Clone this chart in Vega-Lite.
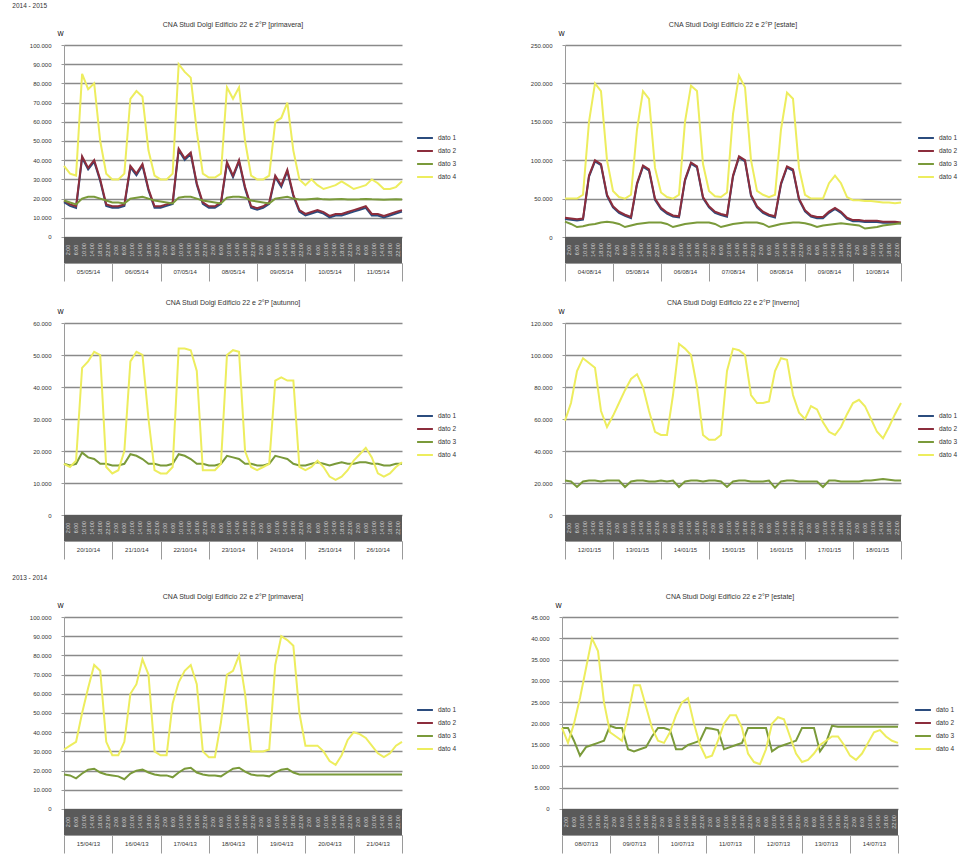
{
"$schema": "https://vega.github.io/schema/vega-lite/v6.json",
"padding": {"left": 12, "top": 2, "right": 2, "bottom": 2},
"background": "white",
"config": {"view": {"stroke": null}, "font": "Liberation Sans", "title": {"fontWeight": "normal", "color": "#333"}},
"datasets": {
"ore": [{"h":2,"t":"2:00"},{"h":6,"t":"6:00"},{"h":10,"t":"10:00"},{"h":14,"t":"14:00"},{"h":18,"t":"18:00"},{"h":22,"t":"22:00"},
{"h":26,"t":"2:00"},{"h":30,"t":"6:00"},{"h":34,"t":"10:00"},{"h":38,"t":"14:00"},{"h":42,"t":"18:00"},{"h":46,"t":"22:00"},
{"h":50,"t":"2:00"},{"h":54,"t":"6:00"},{"h":58,"t":"10:00"},{"h":62,"t":"14:00"},{"h":66,"t":"18:00"},{"h":70,"t":"22:00"},
{"h":74,"t":"2:00"},{"h":78,"t":"6:00"},{"h":82,"t":"10:00"},{"h":86,"t":"14:00"},{"h":90,"t":"18:00"},{"h":94,"t":"22:00"},
{"h":98,"t":"2:00"},{"h":102,"t":"6:00"},{"h":106,"t":"10:00"},{"h":110,"t":"14:00"},{"h":114,"t":"18:00"},{"h":118,"t":"22:00"},
{"h":122,"t":"2:00"},{"h":126,"t":"6:00"},{"h":130,"t":"10:00"},{"h":134,"t":"14:00"},{"h":138,"t":"18:00"},{"h":142,"t":"22:00"},
{"h":146,"t":"2:00"},{"h":150,"t":"6:00"},{"h":154,"t":"10:00"},{"h":158,"t":"14:00"},{"h":162,"t":"18:00"},{"h":166,"t":"22:00"}]
},
"spacing": 14,
"resolve": {"scale": {"color": "independent", "strokeWidth": "independent"}, "legend": {"color": "independent"}},
"vconcat": [
{
"title": {"text": "2014 - 2015", "anchor": "start", "fontSize": 6.5, "offset": 12, "dx": -17},
"spacing": 17,
"resolve": {"scale": {"color": "independent", "strokeWidth": "independent"}, "legend": {"color": "independent"}},
"vconcat": [
{
"spacing": 73,
"resolve": {"scale": {"color": "independent", "strokeWidth": "independent"}, "legend": {"color": "independent"}},
"hconcat": [
{
"title": {"text": "CNA Studi Dolgi Edificio 22 e 2°P [primavera]", "fontSize": 7, "offset": 2},
"width": 338, "height": 218,
"layer": [
{"data": {"values": [{}]}, "mark": {"type": "rect", "color": "#5a5a5a"},
 "encoding": {"x": {"datum": 0, "type": "quantitative"}, "x2": {"datum": 168}, "y": {"datum": -13542, "type": "quantitative"}, "y2": {"datum": 0}}},
{"data": {"name": "ore"}, "mark": {"type": "text", "angle": 270, "fontSize": 5.5, "color": "#d4d4d4", "baseline": "middle", "align": "center"},
 "encoding": {"x": {"field": "h", "type": "quantitative"}, "y": {"datum": -6771, "type": "quantitative"}, "text": {"field": "t"}}},
{"data": {"values": [
{"h":0,"dato 1":18200,"dato 2":19000,"dato 3":19000,"dato 4":37000},
{"h":3,"dato 1":16200,"dato 2":17000,"dato 3":18000,"dato 4":33000},
{"h":6,"dato 1":15200,"dato 2":16000,"dato 3":17000,"dato 4":32000},
{"h":9,"dato 1":41200,"dato 2":42000,"dato 3":20000,"dato 4":85000},
{"h":12,"dato 1":35200,"dato 2":36000,"dato 3":21000,"dato 4":77000},
{"h":15,"dato 1":39200,"dato 2":40000,"dato 3":21000,"dato 4":80000},
{"h":18,"dato 1":29200,"dato 2":30000,"dato 3":20000,"dato 4":50000},
{"h":21,"dato 1":16200,"dato 2":17000,"dato 3":19000,"dato 4":33000},
{"h":24,"dato 1":15200,"dato 2":16000,"dato 3":18000,"dato 4":30000},
{"h":27,"dato 1":15200,"dato 2":16000,"dato 3":18000,"dato 4":30000},
{"h":30,"dato 1":16200,"dato 2":17000,"dato 3":17500,"dato 4":33000},
{"h":33,"dato 1":36200,"dato 2":37000,"dato 3":20000,"dato 4":72000},
{"h":36,"dato 1":32200,"dato 2":33000,"dato 3":20500,"dato 4":76000},
{"h":39,"dato 1":37200,"dato 2":38000,"dato 3":21000,"dato 4":73000},
{"h":42,"dato 1":24200,"dato 2":25000,"dato 3":20000,"dato 4":45000},
{"h":45,"dato 1":15200,"dato 2":16000,"dato 3":19000,"dato 4":32000},
{"h":48,"dato 1":15200,"dato 2":16000,"dato 3":18500,"dato 4":30000},
{"h":51,"dato 1":16200,"dato 2":17000,"dato 3":18000,"dato 4":30000},
{"h":54,"dato 1":17200,"dato 2":18000,"dato 3":17500,"dato 4":33000},
{"h":57,"dato 1":45200,"dato 2":46000,"dato 3":20500,"dato 4":90000},
{"h":60,"dato 1":40200,"dato 2":41000,"dato 3":21000,"dato 4":86000},
{"h":63,"dato 1":43200,"dato 2":44000,"dato 3":21000,"dato 4":83000},
{"h":66,"dato 1":27200,"dato 2":28000,"dato 3":20000,"dato 4":55000},
{"h":69,"dato 1":17200,"dato 2":18000,"dato 3":19000,"dato 4":33000},
{"h":72,"dato 1":15200,"dato 2":16000,"dato 3":18500,"dato 4":31000},
{"h":75,"dato 1":15200,"dato 2":16000,"dato 3":18000,"dato 4":31000},
{"h":78,"dato 1":17200,"dato 2":18000,"dato 3":17500,"dato 4":33000},
{"h":81,"dato 1":38200,"dato 2":39000,"dato 3":20500,"dato 4":78000},
{"h":84,"dato 1":31200,"dato 2":32000,"dato 3":21000,"dato 4":72000},
{"h":87,"dato 1":39200,"dato 2":40000,"dato 3":21000,"dato 4":78000},
{"h":90,"dato 1":25200,"dato 2":26000,"dato 3":20500,"dato 4":50000},
{"h":93,"dato 1":15200,"dato 2":16000,"dato 3":19000,"dato 4":32000},
{"h":96,"dato 1":14200,"dato 2":15000,"dato 3":18500,"dato 4":30000},
{"h":99,"dato 1":15200,"dato 2":16000,"dato 3":18000,"dato 4":30000},
{"h":102,"dato 1":17200,"dato 2":18000,"dato 3":17500,"dato 4":32000},
{"h":105,"dato 1":31200,"dato 2":32000,"dato 3":20000,"dato 4":60000},
{"h":108,"dato 1":26200,"dato 2":27000,"dato 3":20500,"dato 4":62000},
{"h":111,"dato 1":34200,"dato 2":35000,"dato 3":21000,"dato 4":70000},
{"h":114,"dato 1":21200,"dato 2":22000,"dato 3":20000,"dato 4":45000},
{"h":117,"dato 1":13200,"dato 2":14000,"dato 3":19500,"dato 4":30000},
{"h":120,"dato 1":11200,"dato 2":12000,"dato 3":19500,"dato 4":27000},
{"h":123,"dato 1":12200,"dato 2":13000,"dato 3":19800,"dato 4":30000},
{"h":126,"dato 1":13200,"dato 2":14000,"dato 3":20000,"dato 4":27000},
{"h":129,"dato 1":12200,"dato 2":13000,"dato 3":19600,"dato 4":25000},
{"h":132,"dato 1":10200,"dato 2":11000,"dato 3":19500,"dato 4":26000},
{"h":135,"dato 1":11200,"dato 2":12000,"dato 3":19700,"dato 4":27000},
{"h":138,"dato 1":11200,"dato 2":12000,"dato 3":19800,"dato 4":29000},
{"h":141,"dato 1":12200,"dato 2":13000,"dato 3":19500,"dato 4":27000},
{"h":144,"dato 1":13200,"dato 2":14000,"dato 3":19500,"dato 4":25000},
{"h":147,"dato 1":14200,"dato 2":15000,"dato 3":19600,"dato 4":26000},
{"h":150,"dato 1":15200,"dato 2":16000,"dato 3":19800,"dato 4":27000},
{"h":153,"dato 1":11200,"dato 2":12000,"dato 3":19600,"dato 4":30000},
{"h":156,"dato 1":11200,"dato 2":12000,"dato 3":19500,"dato 4":28000},
{"h":159,"dato 1":10200,"dato 2":11000,"dato 3":19400,"dato 4":25000},
{"h":162,"dato 1":11200,"dato 2":12000,"dato 3":19500,"dato 4":25000},
{"h":165,"dato 1":12200,"dato 2":13000,"dato 3":19600,"dato 4":26000},
{"h":168,"dato 1":13200,"dato 2":14000,"dato 3":19500,"dato 4":29000}
]},
 "transform": [{"fold": ["dato 1", "dato 2", "dato 3", "dato 4"], "as": ["serie", "W"]}],
 "mark": {"type": "line"},
 "encoding": {
  "x": {"field": "h", "type": "quantitative", "scale": {"domain": [0, 168], "nice": false, "zero": false},
   "axis": {"title": null, "values": [0,24,48,72,96,120,144,168], "tickCount": 20, "labelExpr": "['05/05/14','06/05/14','07/05/14','08/05/14','09/05/14','10/05/14','11/05/14',''][datum.value/24]", "labelOffset": 24, "labelPadding": -13, "tickSize": 18, "tickColor": "#9a9a9a", "domainColor": "#9a9a9a", "grid": false, "labelFontSize": 6, "labelColor": "#333", "labelAngle": 0, "labelBaseline": "top", "labelOverlap": false, "labelBound": false, "labelFlush": false}},
  "y": {"field": "W", "type": "quantitative", "scale": {"domain": [-13542, 100000], "nice": false, "zero": false},
   "axis": {"title": "W", "titleAngle": 0, "titleX": -4, "titleY": -9, "titleAlign": "center", "titleFontSize": 6.5, "titleFontWeight": "normal", "labelFontSize": 6, "labelColor": "#333", "labelPadding": 10, "labelOverlap": false, "labelExpr": "replace(format(datum.value, ','), ',', '.')", "values": [0,10000,20000,30000,40000,50000,60000,70000,80000,90000,100000], "tickCount": 20, "grid": true, "gridColor": "#8a8a8a", "gridWidth": 1.3, "gridOpacity": 1, "domainColor": "#9a9a9a", "tickColor": "#9a9a9a", "tickSize": 3}},
  "color": {"field": "serie", "type": "nominal", "scale": {"domain": ["dato 1", "dato 2", "dato 3", "dato 4"], "range": ["#2B4C7E", "#8C2D3C", "#7A9A3A", "#EDED5E"]},
   "legend": {"orient": "none", "legendX": 352, "legendY": 84, "title": null, "symbolType": "stroke", "symbolStrokeWidth": 2, "symbolSize": 250, "labelFontSize": 6.5, "rowPadding": 0, "labelColor": "#333"}},
  "strokeWidth": {"field": "serie", "type": "nominal", "scale": {"domain": ["dato 1", "dato 2", "dato 3", "dato 4"], "range": [2, 2, 2, 4.5]}, "legend": null}
 }}
]
},
{
"title": {"text": "CNA Studi Dolgi Edificio 22 e 2°P [estate]", "fontSize": 7, "offset": 2},
"width": 336, "height": 218,
"layer": [
{"data": {"values": [{}]}, "mark": {"type": "rect", "color": "#5a5a5a"},
 "encoding": {"x": {"datum": 0, "type": "quantitative"}, "x2": {"datum": 168}, "y": {"datum": -33854, "type": "quantitative"}, "y2": {"datum": 0}}},
{"data": {"name": "ore"}, "mark": {"type": "text", "angle": 270, "fontSize": 5.5, "color": "#d4d4d4", "baseline": "middle", "align": "center"},
 "encoding": {"x": {"field": "h", "type": "quantitative"}, "y": {"datum": -16927, "type": "quantitative"}, "text": {"field": "t"}}},
{"data": {"values": [
{"h":0,"dato 1":23500,"dato 2":25000,"dato 3":20000,"dato 4":50000},
{"h":3,"dato 1":22500,"dato 2":24000,"dato 3":17000,"dato 4":50000},
{"h":6,"dato 1":21500,"dato 2":23000,"dato 3":13000,"dato 4":50000},
{"h":9,"dato 1":22500,"dato 2":24000,"dato 3":14000,"dato 4":55000},
{"h":12,"dato 1":78500,"dato 2":80000,"dato 3":16000,"dato 4":150000},
{"h":15,"dato 1":98500,"dato 2":100000,"dato 3":17000,"dato 4":200000},
{"h":18,"dato 1":93500,"dato 2":95000,"dato 3":19000,"dato 4":190000},
{"h":21,"dato 1":53500,"dato 2":55000,"dato 3":20000,"dato 4":100000},
{"h":24,"dato 1":38500,"dato 2":40000,"dato 3":19000,"dato 4":60000},
{"h":27,"dato 1":31500,"dato 2":33000,"dato 3":17000,"dato 4":52000},
{"h":30,"dato 1":27500,"dato 2":29000,"dato 3":13000,"dato 4":50000},
{"h":33,"dato 1":24500,"dato 2":26000,"dato 3":15000,"dato 4":55000},
{"h":36,"dato 1":68500,"dato 2":70000,"dato 3":17000,"dato 4":140000},
{"h":39,"dato 1":91500,"dato 2":93000,"dato 3":18000,"dato 4":190000},
{"h":42,"dato 1":86500,"dato 2":88000,"dato 3":19000,"dato 4":180000},
{"h":45,"dato 1":48500,"dato 2":50000,"dato 3":19000,"dato 4":90000},
{"h":48,"dato 1":36500,"dato 2":38000,"dato 3":19000,"dato 4":58000},
{"h":51,"dato 1":30500,"dato 2":32000,"dato 3":17000,"dato 4":52000},
{"h":54,"dato 1":26500,"dato 2":28000,"dato 3":13000,"dato 4":50000},
{"h":57,"dato 1":25500,"dato 2":27000,"dato 3":15000,"dato 4":55000},
{"h":60,"dato 1":73500,"dato 2":75000,"dato 3":17000,"dato 4":150000},
{"h":63,"dato 1":95500,"dato 2":97000,"dato 3":18000,"dato 4":197000},
{"h":66,"dato 1":90500,"dato 2":92000,"dato 3":19000,"dato 4":190000},
{"h":69,"dato 1":50500,"dato 2":52000,"dato 3":19000,"dato 4":95000},
{"h":72,"dato 1":38500,"dato 2":40000,"dato 3":19000,"dato 4":60000},
{"h":75,"dato 1":31500,"dato 2":33000,"dato 3":17000,"dato 4":53000},
{"h":78,"dato 1":28500,"dato 2":30000,"dato 3":13000,"dato 4":52000},
{"h":81,"dato 1":26500,"dato 2":28000,"dato 3":15000,"dato 4":58000},
{"h":84,"dato 1":78500,"dato 2":80000,"dato 3":17000,"dato 4":160000},
{"h":87,"dato 1":103500,"dato 2":105000,"dato 3":18000,"dato 4":210000},
{"h":90,"dato 1":98500,"dato 2":100000,"dato 3":19000,"dato 4":195000},
{"h":93,"dato 1":53500,"dato 2":55000,"dato 3":19000,"dato 4":100000},
{"h":96,"dato 1":38500,"dato 2":40000,"dato 3":19000,"dato 4":60000},
{"h":99,"dato 1":31500,"dato 2":33000,"dato 3":17000,"dato 4":55000},
{"h":102,"dato 1":27500,"dato 2":29000,"dato 3":13000,"dato 4":52000},
{"h":105,"dato 1":25500,"dato 2":27000,"dato 3":15000,"dato 4":55000},
{"h":108,"dato 1":68500,"dato 2":70000,"dato 3":17000,"dato 4":140000},
{"h":111,"dato 1":90500,"dato 2":92000,"dato 3":18000,"dato 4":188000},
{"h":114,"dato 1":86500,"dato 2":88000,"dato 3":19000,"dato 4":180000},
{"h":117,"dato 1":48500,"dato 2":50000,"dato 3":19000,"dato 4":90000},
{"h":120,"dato 1":33500,"dato 2":35000,"dato 3":18000,"dato 4":55000},
{"h":123,"dato 1":26500,"dato 2":28000,"dato 3":16000,"dato 4":50000},
{"h":126,"dato 1":24500,"dato 2":26000,"dato 3":13000,"dato 4":50000},
{"h":129,"dato 1":24500,"dato 2":26000,"dato 3":15000,"dato 4":50000},
{"h":132,"dato 1":31500,"dato 2":33000,"dato 3":16000,"dato 4":70000},
{"h":135,"dato 1":36500,"dato 2":38000,"dato 3":17000,"dato 4":80000},
{"h":138,"dato 1":31500,"dato 2":33000,"dato 3":18000,"dato 4":70000},
{"h":141,"dato 1":23500,"dato 2":25000,"dato 3":17000,"dato 4":52000},
{"h":144,"dato 1":20500,"dato 2":22000,"dato 3":16000,"dato 4":48000},
{"h":147,"dato 1":20500,"dato 2":22000,"dato 3":15000,"dato 4":48000},
{"h":150,"dato 1":19500,"dato 2":21000,"dato 3":11000,"dato 4":47000},
{"h":153,"dato 1":19500,"dato 2":21000,"dato 3":12000,"dato 4":47000},
{"h":156,"dato 1":19500,"dato 2":21000,"dato 3":13000,"dato 4":46000},
{"h":159,"dato 1":18500,"dato 2":20000,"dato 3":15000,"dato 4":45000},
{"h":162,"dato 1":18500,"dato 2":20000,"dato 3":16000,"dato 4":45000},
{"h":165,"dato 1":18500,"dato 2":20000,"dato 3":17000,"dato 4":44000},
{"h":168,"dato 1":17500,"dato 2":19000,"dato 3":18000,"dato 4":45000}
]},
 "transform": [{"fold": ["dato 1", "dato 2", "dato 3", "dato 4"], "as": ["serie", "W"]}],
 "mark": {"type": "line"},
 "encoding": {
  "x": {"field": "h", "type": "quantitative", "scale": {"domain": [0, 168], "nice": false, "zero": false},
   "axis": {"title": null, "values": [0,24,48,72,96,120,144,168], "tickCount": 20, "labelExpr": "['04/08/14','05/08/14','06/08/14','07/08/14','08/08/14','09/08/14','10/08/14',''][datum.value/24]", "labelOffset": 24, "labelPadding": -13, "tickSize": 18, "tickColor": "#9a9a9a", "domainColor": "#9a9a9a", "grid": false, "labelFontSize": 6, "labelColor": "#333", "labelAngle": 0, "labelBaseline": "top", "labelOverlap": false, "labelBound": false, "labelFlush": false}},
  "y": {"field": "W", "type": "quantitative", "scale": {"domain": [-33854, 250000], "nice": false, "zero": false},
   "axis": {"title": "W", "titleAngle": 0, "titleX": -4, "titleY": -9, "titleAlign": "center", "titleFontSize": 6.5, "titleFontWeight": "normal", "labelFontSize": 6, "labelColor": "#333", "labelPadding": 10, "labelOverlap": false, "labelExpr": "replace(format(datum.value, ','), ',', '.')", "values": [0,50000,100000,150000,200000,250000], "tickCount": 20, "grid": true, "gridColor": "#8a8a8a", "gridWidth": 1.3, "gridOpacity": 1, "domainColor": "#9a9a9a", "tickColor": "#9a9a9a", "tickSize": 3}},
  "color": {"field": "serie", "type": "nominal", "scale": {"domain": ["dato 1", "dato 2", "dato 3", "dato 4"], "range": ["#2B4C7E", "#8C2D3C", "#7A9A3A", "#EDED5E"]},
   "legend": {"orient": "none", "legendX": 352, "legendY": 84, "title": null, "symbolType": "stroke", "symbolStrokeWidth": 2, "symbolSize": 250, "labelFontSize": 6.5, "rowPadding": 0, "labelColor": "#333"}},
  "strokeWidth": {"field": "serie", "type": "nominal", "scale": {"domain": ["dato 1", "dato 2", "dato 3", "dato 4"], "range": [2, 2, 2, 4.5]}, "legend": null}
 }}
]
}
]
},
{
"spacing": 73,
"resolve": {"scale": {"color": "independent", "strokeWidth": "independent"}, "legend": {"color": "independent"}},
"hconcat": [
{
"title": {"text": "CNA Studi Dolgi Edificio 22 e 2°P [autunno]", "fontSize": 7, "offset": 2},
"width": 338, "height": 218,
"layer": [
{"data": {"values": [{}]}, "mark": {"type": "rect", "color": "#5a5a5a"},
 "encoding": {"x": {"datum": 0, "type": "quantitative"}, "x2": {"datum": 168}, "y": {"datum": -8125, "type": "quantitative"}, "y2": {"datum": 0}}},
{"data": {"name": "ore"}, "mark": {"type": "text", "angle": 270, "fontSize": 5.5, "color": "#d4d4d4", "baseline": "middle", "align": "center"},
 "encoding": {"x": {"field": "h", "type": "quantitative"}, "y": {"datum": -4062, "type": "quantitative"}, "text": {"field": "t"}}},
{"data": {"values": [
{"h":0,"dato 3":16000,"dato 4":16000},{"h":3,"dato 3":15500,"dato 4":15000},{"h":6,"dato 3":16000,"dato 4":17000},{"h":9,"dato 3":19500,"dato 4":46000},
{"h":12,"dato 3":18000,"dato 4":48000},{"h":15,"dato 3":17500,"dato 4":51000},{"h":18,"dato 3":16000,"dato 4":50000},{"h":21,"dato 3":16000,"dato 4":15000},
{"h":24,"dato 3":15500,"dato 4":13000},{"h":27,"dato 3":15500,"dato 4":14000},{"h":30,"dato 3":16000,"dato 4":20000},{"h":33,"dato 3":19000,"dato 4":48000},
{"h":36,"dato 3":18500,"dato 4":51000},{"h":39,"dato 3":17500,"dato 4":50000},{"h":42,"dato 3":16000,"dato 4":30000},{"h":45,"dato 3":16000,"dato 4":14000},
{"h":48,"dato 3":15500,"dato 4":13000},{"h":51,"dato 3":15500,"dato 4":13000},{"h":54,"dato 3":16000,"dato 4":15000},{"h":57,"dato 3":19000,"dato 4":52000},
{"h":60,"dato 3":18500,"dato 4":52000},{"h":63,"dato 3":17500,"dato 4":51500},{"h":66,"dato 3":16000,"dato 4":45000},{"h":69,"dato 3":16000,"dato 4":14000},
{"h":72,"dato 3":15500,"dato 4":14000},{"h":75,"dato 3":15500,"dato 4":14000},{"h":78,"dato 3":16000,"dato 4":16000},{"h":81,"dato 3":18500,"dato 4":50000},
{"h":84,"dato 3":18000,"dato 4":51500},{"h":87,"dato 3":17500,"dato 4":51000},{"h":90,"dato 3":16000,"dato 4":20000},{"h":93,"dato 3":16000,"dato 4":15000},
{"h":96,"dato 3":15500,"dato 4":14000},{"h":99,"dato 3":15500,"dato 4":15000},{"h":102,"dato 3":16000,"dato 4":16000},{"h":105,"dato 3":18500,"dato 4":42000},
{"h":108,"dato 3":18000,"dato 4":43000},{"h":111,"dato 3":17500,"dato 4":42000},{"h":114,"dato 3":16000,"dato 4":42000},{"h":117,"dato 3":15500,"dato 4":15000},
{"h":120,"dato 3":15500,"dato 4":14000},{"h":123,"dato 3":16000,"dato 4":15000},{"h":126,"dato 3":16500,"dato 4":17000},{"h":129,"dato 3":16000,"dato 4":15000},
{"h":132,"dato 3":15500,"dato 4":12000},{"h":135,"dato 3":16000,"dato 4":11000},{"h":138,"dato 3":16500,"dato 4":12000},{"h":141,"dato 3":16000,"dato 4":14000},
{"h":144,"dato 3":16000,"dato 4":17000},{"h":147,"dato 3":16500,"dato 4":19000},{"h":150,"dato 3":16500,"dato 4":21000},{"h":153,"dato 3":16000,"dato 4":18000},
{"h":156,"dato 3":16000,"dato 4":13000},{"h":159,"dato 3":15500,"dato 4":12000},{"h":162,"dato 3":15500,"dato 4":13000},{"h":165,"dato 3":16000,"dato 4":15000},
{"h":168,"dato 3":16000,"dato 4":16500}
]},
 "transform": [{"fold": ["dato 1", "dato 2", "dato 3", "dato 4"], "as": ["serie", "W"]}],
 "mark": {"type": "line"},
 "encoding": {
  "x": {"field": "h", "type": "quantitative", "scale": {"domain": [0, 168], "nice": false, "zero": false},
   "axis": {"title": null, "values": [0,24,48,72,96,120,144,168], "tickCount": 20, "labelExpr": "['20/10/14','21/10/14','22/10/14','23/10/14','24/10/14','25/10/14','26/10/14',''][datum.value/24]", "labelOffset": 24, "labelPadding": -13, "tickSize": 18, "tickColor": "#9a9a9a", "domainColor": "#9a9a9a", "grid": false, "labelFontSize": 6, "labelColor": "#333", "labelAngle": 0, "labelBaseline": "top", "labelOverlap": false, "labelBound": false, "labelFlush": false}},
  "y": {"field": "W", "type": "quantitative", "scale": {"domain": [-8125, 60000], "nice": false, "zero": false},
   "axis": {"title": "W", "titleAngle": 0, "titleX": -4, "titleY": -9, "titleAlign": "center", "titleFontSize": 6.5, "titleFontWeight": "normal", "labelFontSize": 6, "labelColor": "#333", "labelPadding": 10, "labelOverlap": false, "labelExpr": "replace(format(datum.value, ','), ',', '.')", "values": [0,10000,20000,30000,40000,50000,60000], "tickCount": 20, "grid": true, "gridColor": "#8a8a8a", "gridWidth": 1.3, "gridOpacity": 1, "domainColor": "#9a9a9a", "tickColor": "#9a9a9a", "tickSize": 3}},
  "color": {"field": "serie", "type": "nominal", "scale": {"domain": ["dato 1", "dato 2", "dato 3", "dato 4"], "range": ["#2B4C7E", "#8C2D3C", "#7A9A3A", "#EDED5E"]},
   "legend": {"orient": "none", "legendX": 352, "legendY": 84, "title": null, "symbolType": "stroke", "symbolStrokeWidth": 2, "symbolSize": 250, "labelFontSize": 6.5, "rowPadding": 0, "labelColor": "#333"}},
  "strokeWidth": {"field": "serie", "type": "nominal", "scale": {"domain": ["dato 1", "dato 2", "dato 3", "dato 4"], "range": [2, 2, 2, 4.5]}, "legend": null}
 }}
]
},
{
"title": {"text": "CNA Studi Dolgi Edificio 22 e 2°P [inverno]", "fontSize": 7, "offset": 2},
"width": 336, "height": 218,
"layer": [
{"data": {"values": [{}]}, "mark": {"type": "rect", "color": "#5a5a5a"},
 "encoding": {"x": {"datum": 0, "type": "quantitative"}, "x2": {"datum": 168}, "y": {"datum": -16250, "type": "quantitative"}, "y2": {"datum": 0}}},
{"data": {"name": "ore"}, "mark": {"type": "text", "angle": 270, "fontSize": 5.5, "color": "#d4d4d4", "baseline": "middle", "align": "center"},
 "encoding": {"x": {"field": "h", "type": "quantitative"}, "y": {"datum": -8125, "type": "quantitative"}, "text": {"field": "t"}}},
{"data": {"values": [
{"h":0,"dato 3":21500,"dato 4":59000},{"h":3,"dato 3":21000,"dato 4":70000},{"h":6,"dato 3":17500,"dato 4":90000},{"h":9,"dato 3":21000,"dato 4":98000},
{"h":12,"dato 3":21500,"dato 4":95000},{"h":15,"dato 3":21500,"dato 4":92000},{"h":18,"dato 3":21000,"dato 4":65000},{"h":21,"dato 3":21500,"dato 4":55000},
{"h":24,"dato 3":21500,"dato 4":62000},{"h":27,"dato 3":21500,"dato 4":70000},{"h":30,"dato 3":17500,"dato 4":78000},{"h":33,"dato 3":21000,"dato 4":85000},
{"h":36,"dato 3":21500,"dato 4":88000},{"h":39,"dato 3":21500,"dato 4":80000},{"h":42,"dato 3":21000,"dato 4":65000},{"h":45,"dato 3":21000,"dato 4":52000},
{"h":48,"dato 3":21500,"dato 4":50000},{"h":51,"dato 3":21000,"dato 4":50000},{"h":54,"dato 3":21500,"dato 4":75000},{"h":57,"dato 3":17500,"dato 4":107000},
{"h":60,"dato 3":21000,"dato 4":104000},{"h":63,"dato 3":21500,"dato 4":100000},{"h":66,"dato 3":21500,"dato 4":80000},{"h":69,"dato 3":21000,"dato 4":50000},
{"h":72,"dato 3":21500,"dato 4":47000},{"h":75,"dato 3":21500,"dato 4":47000},{"h":78,"dato 3":21000,"dato 4":50000},{"h":81,"dato 3":17500,"dato 4":90000},
{"h":84,"dato 3":21000,"dato 4":104000},{"h":87,"dato 3":21500,"dato 4":103000},{"h":90,"dato 3":21500,"dato 4":100000},{"h":93,"dato 3":21000,"dato 4":75000},
{"h":96,"dato 3":21000,"dato 4":70000},{"h":99,"dato 3":21000,"dato 4":70000},{"h":102,"dato 3":21500,"dato 4":71000},{"h":105,"dato 3":17000,"dato 4":90000},
{"h":108,"dato 3":21000,"dato 4":98000},{"h":111,"dato 3":21500,"dato 4":97000},{"h":114,"dato 3":21500,"dato 4":75000},{"h":117,"dato 3":21000,"dato 4":64000},
{"h":120,"dato 3":21000,"dato 4":60000},{"h":123,"dato 3":21000,"dato 4":68000},{"h":126,"dato 3":21000,"dato 4":66000},{"h":129,"dato 3":17500,"dato 4":58000},
{"h":132,"dato 3":21500,"dato 4":52000},{"h":135,"dato 3":21500,"dato 4":50000},{"h":138,"dato 3":21000,"dato 4":55000},{"h":141,"dato 3":21000,"dato 4":63000},
{"h":144,"dato 3":21000,"dato 4":70000},{"h":147,"dato 3":21000,"dato 4":72000},{"h":150,"dato 3":21500,"dato 4":68000},{"h":153,"dato 3":21500,"dato 4":60000},
{"h":156,"dato 3":22000,"dato 4":52000},{"h":159,"dato 3":22500,"dato 4":48000},{"h":162,"dato 3":22000,"dato 4":55000},{"h":165,"dato 3":21500,"dato 4":63000},
{"h":168,"dato 3":21500,"dato 4":70000}
]},
 "transform": [{"fold": ["dato 1", "dato 2", "dato 3", "dato 4"], "as": ["serie", "W"]}],
 "mark": {"type": "line"},
 "encoding": {
  "x": {"field": "h", "type": "quantitative", "scale": {"domain": [0, 168], "nice": false, "zero": false},
   "axis": {"title": null, "values": [0,24,48,72,96,120,144,168], "tickCount": 20, "labelExpr": "['12/01/15','13/01/15','14/01/15','15/01/15','16/01/15','17/01/15','18/01/15',''][datum.value/24]", "labelOffset": 24, "labelPadding": -13, "tickSize": 18, "tickColor": "#9a9a9a", "domainColor": "#9a9a9a", "grid": false, "labelFontSize": 6, "labelColor": "#333", "labelAngle": 0, "labelBaseline": "top", "labelOverlap": false, "labelBound": false, "labelFlush": false}},
  "y": {"field": "W", "type": "quantitative", "scale": {"domain": [-16250, 120000], "nice": false, "zero": false},
   "axis": {"title": "W", "titleAngle": 0, "titleX": -4, "titleY": -9, "titleAlign": "center", "titleFontSize": 6.5, "titleFontWeight": "normal", "labelFontSize": 6, "labelColor": "#333", "labelPadding": 10, "labelOverlap": false, "labelExpr": "replace(format(datum.value, ','), ',', '.')", "values": [0,20000,40000,60000,80000,100000,120000], "tickCount": 20, "grid": true, "gridColor": "#8a8a8a", "gridWidth": 1.3, "gridOpacity": 1, "domainColor": "#9a9a9a", "tickColor": "#9a9a9a", "tickSize": 3}},
  "color": {"field": "serie", "type": "nominal", "scale": {"domain": ["dato 1", "dato 2", "dato 3", "dato 4"], "range": ["#2B4C7E", "#8C2D3C", "#7A9A3A", "#EDED5E"]},
   "legend": {"orient": "none", "legendX": 352, "legendY": 84, "title": null, "symbolType": "stroke", "symbolStrokeWidth": 2, "symbolSize": 250, "labelFontSize": 6.5, "rowPadding": 0, "labelColor": "#333"}},
  "strokeWidth": {"field": "serie", "type": "nominal", "scale": {"domain": ["dato 1", "dato 2", "dato 3", "dato 4"], "range": [2, 2, 2, 4.5]}, "legend": null}
 }}
]
}
]
}
]
},
{
"title": {"text": "2013 - 2014", "anchor": "start", "fontSize": 6.5, "offset": 12, "dx": -17},
"spacing": 73,
"resolve": {"scale": {"color": "independent", "strokeWidth": "independent"}, "legend": {"color": "independent"}},
"hconcat": [
{
"title": {"text": "CNA Studi Dolgi Edificio 22 e 2°P [primavera]", "fontSize": 7, "offset": 2},
"width": 338, "height": 218,
"layer": [
{"data": {"values": [{}]}, "mark": {"type": "rect", "color": "#5a5a5a"},
 "encoding": {"x": {"datum": 0, "type": "quantitative"}, "x2": {"datum": 168}, "y": {"datum": -13542, "type": "quantitative"}, "y2": {"datum": 0}}},
{"data": {"name": "ore"}, "mark": {"type": "text", "angle": 270, "fontSize": 5.5, "color": "#d4d4d4", "baseline": "middle", "align": "center"},
 "encoding": {"x": {"field": "h", "type": "quantitative"}, "y": {"datum": -6771, "type": "quantitative"}, "text": {"field": "t"}}},
{"data": {"values": [
{"h":0,"dato 3":18000,"dato 4":31000},{"h":3,"dato 3":17500,"dato 4":33000},{"h":6,"dato 3":16000,"dato 4":35000},{"h":9,"dato 3":18500,"dato 4":50000},
{"h":12,"dato 3":20500,"dato 4":63000},{"h":15,"dato 3":21000,"dato 4":75000},{"h":18,"dato 3":19000,"dato 4":72000},{"h":21,"dato 3":18000,"dato 4":35000},
{"h":24,"dato 3":17500,"dato 4":28000},{"h":27,"dato 3":17000,"dato 4":28000},{"h":30,"dato 3":15500,"dato 4":35000},{"h":33,"dato 3":18500,"dato 4":60000},
{"h":36,"dato 3":20000,"dato 4":65000},{"h":39,"dato 3":20500,"dato 4":78000},{"h":42,"dato 3":19000,"dato 4":70000},{"h":45,"dato 3":18000,"dato 4":30000},
{"h":48,"dato 3":17500,"dato 4":28000},{"h":51,"dato 3":17500,"dato 4":28000},{"h":54,"dato 3":16500,"dato 4":55000},{"h":57,"dato 3":19000,"dato 4":66000},
{"h":60,"dato 3":21000,"dato 4":72000},{"h":63,"dato 3":21500,"dato 4":75000},{"h":66,"dato 3":19000,"dato 4":65000},{"h":69,"dato 3":18000,"dato 4":30000},
{"h":72,"dato 3":17500,"dato 4":27000},{"h":75,"dato 3":17500,"dato 4":27000},{"h":78,"dato 3":17000,"dato 4":45000},{"h":81,"dato 3":19000,"dato 4":70000},
{"h":84,"dato 3":21000,"dato 4":72000},{"h":87,"dato 3":21500,"dato 4":80000},{"h":90,"dato 3":19500,"dato 4":60000},{"h":93,"dato 3":18000,"dato 4":30000},
{"h":96,"dato 3":17500,"dato 4":30000},{"h":99,"dato 3":17500,"dato 4":30000},{"h":102,"dato 3":17000,"dato 4":31000},{"h":105,"dato 3":19000,"dato 4":75000},
{"h":108,"dato 3":20500,"dato 4":90000},{"h":111,"dato 3":21000,"dato 4":88000},{"h":114,"dato 3":19000,"dato 4":85000},{"h":117,"dato 3":18000,"dato 4":50000},
{"h":120,"dato 3":18000,"dato 4":33000},{"h":123,"dato 3":18000,"dato 4":33000},{"h":126,"dato 3":18000,"dato 4":33000},{"h":129,"dato 3":18000,"dato 4":30000},
{"h":132,"dato 3":18000,"dato 4":25000},{"h":135,"dato 3":18000,"dato 4":23000},{"h":138,"dato 3":18000,"dato 4":28000},{"h":141,"dato 3":18000,"dato 4":36000},
{"h":144,"dato 3":18000,"dato 4":40000},{"h":147,"dato 3":18000,"dato 4":39000},{"h":150,"dato 3":18000,"dato 4":37000},{"h":153,"dato 3":18000,"dato 4":33000},
{"h":156,"dato 3":18000,"dato 4":29000},{"h":159,"dato 3":18000,"dato 4":27000},{"h":162,"dato 3":18000,"dato 4":29000},{"h":165,"dato 3":18000,"dato 4":33000},
{"h":168,"dato 3":18000,"dato 4":35000}
]},
 "transform": [{"fold": ["dato 1", "dato 2", "dato 3", "dato 4"], "as": ["serie", "W"]}],
 "mark": {"type": "line"},
 "encoding": {
  "x": {"field": "h", "type": "quantitative", "scale": {"domain": [0, 168], "nice": false, "zero": false},
   "axis": {"title": null, "values": [0,24,48,72,96,120,144,168], "tickCount": 20, "labelExpr": "['15/04/13','16/04/13','17/04/13','18/04/13','19/04/13','20/04/13','21/04/13',''][datum.value/24]", "labelOffset": 24, "labelPadding": -13, "tickSize": 18, "tickColor": "#9a9a9a", "domainColor": "#9a9a9a", "grid": false, "labelFontSize": 6, "labelColor": "#333", "labelAngle": 0, "labelBaseline": "top", "labelOverlap": false, "labelBound": false, "labelFlush": false}},
  "y": {"field": "W", "type": "quantitative", "scale": {"domain": [-13542, 100000], "nice": false, "zero": false},
   "axis": {"title": "W", "titleAngle": 0, "titleX": -4, "titleY": -9, "titleAlign": "center", "titleFontSize": 6.5, "titleFontWeight": "normal", "labelFontSize": 6, "labelColor": "#333", "labelPadding": 10, "labelOverlap": false, "labelExpr": "replace(format(datum.value, ','), ',', '.')", "values": [0,10000,20000,30000,40000,50000,60000,70000,80000,90000,100000], "tickCount": 20, "grid": true, "gridColor": "#8a8a8a", "gridWidth": 1.3, "gridOpacity": 1, "domainColor": "#9a9a9a", "tickColor": "#9a9a9a", "tickSize": 3}},
  "color": {"field": "serie", "type": "nominal", "scale": {"domain": ["dato 1", "dato 2", "dato 3", "dato 4"], "range": ["#2B4C7E", "#8C2D3C", "#7A9A3A", "#EDED5E"]},
   "legend": {"orient": "none", "legendX": 352, "legendY": 84, "title": null, "symbolType": "stroke", "symbolStrokeWidth": 2, "symbolSize": 250, "labelFontSize": 6.5, "rowPadding": 0, "labelColor": "#333"}},
  "strokeWidth": {"field": "serie", "type": "nominal", "scale": {"domain": ["dato 1", "dato 2", "dato 3", "dato 4"], "range": [2, 2, 2, 4.5]}, "legend": null}
 }}
]
},
{
"title": {"text": "CNA Studi Dolgi Edificio 22 e 2°P [estate]", "fontSize": 7, "offset": 2},
"width": 336, "height": 218,
"layer": [
{"data": {"values": [{}]}, "mark": {"type": "rect", "color": "#5a5a5a"},
 "encoding": {"x": {"datum": 0, "type": "quantitative"}, "x2": {"datum": 168}, "y": {"datum": -6094, "type": "quantitative"}, "y2": {"datum": 0}}},
{"data": {"name": "ore"}, "mark": {"type": "text", "angle": 270, "fontSize": 5.5, "color": "#d4d4d4", "baseline": "middle", "align": "center"},
 "encoding": {"x": {"field": "h", "type": "quantitative"}, "y": {"datum": -3047, "type": "quantitative"}, "text": {"field": "t"}}},
{"data": {"values": [
{"h":0,"dato 3":19000,"dato 4":19000},{"h":3,"dato 3":19000,"dato 4":15500},{"h":6,"dato 3":16000,"dato 4":20000},{"h":9,"dato 3":12500,"dato 4":26000},
{"h":12,"dato 3":14500,"dato 4":33000},{"h":15,"dato 3":15000,"dato 4":40000},{"h":18,"dato 3":15500,"dato 4":37000},{"h":21,"dato 3":16000,"dato 4":25000},
{"h":24,"dato 3":19500,"dato 4":18000},{"h":27,"dato 3":19000,"dato 4":17000},{"h":30,"dato 3":19000,"dato 4":16000},{"h":33,"dato 3":14000,"dato 4":22000},
{"h":36,"dato 3":13500,"dato 4":29000},{"h":39,"dato 3":14000,"dato 4":29000},{"h":42,"dato 3":14500,"dato 4":24000},{"h":45,"dato 3":17000,"dato 4":19000},
{"h":48,"dato 3":19000,"dato 4":16000},{"h":51,"dato 3":19000,"dato 4":15500},{"h":54,"dato 3":18500,"dato 4":18000},{"h":57,"dato 3":14000,"dato 4":22000},
{"h":60,"dato 3":14000,"dato 4":25000},{"h":63,"dato 3":15000,"dato 4":26000},{"h":66,"dato 3":15500,"dato 4":20000},{"h":69,"dato 3":16000,"dato 4":15000},
{"h":72,"dato 3":19000,"dato 4":12000},{"h":75,"dato 3":18800,"dato 4":12500},{"h":78,"dato 3":18500,"dato 4":16000},{"h":81,"dato 3":14000,"dato 4":20000},
{"h":84,"dato 3":14500,"dato 4":22000},{"h":87,"dato 3":15000,"dato 4":22000},{"h":90,"dato 3":15500,"dato 4":19000},{"h":93,"dato 3":19000,"dato 4":13000},
{"h":96,"dato 3":19000,"dato 4":11000},{"h":99,"dato 3":19000,"dato 4":10500},{"h":102,"dato 3":19000,"dato 4":14000},{"h":105,"dato 3":13500,"dato 4":20000},
{"h":108,"dato 3":14500,"dato 4":21500},{"h":111,"dato 3":15000,"dato 4":21000},{"h":114,"dato 3":15500,"dato 4":17000},{"h":117,"dato 3":16000,"dato 4":13000},
{"h":120,"dato 3":19000,"dato 4":11000},{"h":123,"dato 3":19000,"dato 4":11500},{"h":126,"dato 3":19000,"dato 4":13000},{"h":129,"dato 3":13500,"dato 4":15000},
{"h":132,"dato 3":15500,"dato 4":16000},{"h":135,"dato 3":19500,"dato 4":17000},{"h":138,"dato 3":19300,"dato 4":17000},{"h":141,"dato 3":19300,"dato 4":15000},
{"h":144,"dato 3":19300,"dato 4":12500},{"h":147,"dato 3":19300,"dato 4":11500},{"h":150,"dato 3":19300,"dato 4":13000},{"h":153,"dato 3":19300,"dato 4":15500},
{"h":156,"dato 3":19300,"dato 4":18000},{"h":159,"dato 3":19300,"dato 4":18500},{"h":162,"dato 3":19300,"dato 4":17000},{"h":165,"dato 3":19300,"dato 4":16000},
{"h":168,"dato 3":19300,"dato 4":15500}
]},
 "transform": [{"fold": ["dato 1", "dato 2", "dato 3", "dato 4"], "as": ["serie", "W"]}],
 "mark": {"type": "line"},
 "encoding": {
  "x": {"field": "h", "type": "quantitative", "scale": {"domain": [0, 168], "nice": false, "zero": false},
   "axis": {"title": null, "values": [0,24,48,72,96,120,144,168], "tickCount": 20, "labelExpr": "['08/07/13','09/07/13','10/07/13','11/07/13','12/07/13','13/07/13','14/07/13',''][datum.value/24]", "labelOffset": 24, "labelPadding": -13, "tickSize": 18, "tickColor": "#9a9a9a", "domainColor": "#9a9a9a", "grid": false, "labelFontSize": 6, "labelColor": "#333", "labelAngle": 0, "labelBaseline": "top", "labelOverlap": false, "labelBound": false, "labelFlush": false}},
  "y": {"field": "W", "type": "quantitative", "scale": {"domain": [-6094, 45000], "nice": false, "zero": false},
   "axis": {"title": "W", "titleAngle": 0, "titleX": -4, "titleY": -9, "titleAlign": "center", "titleFontSize": 6.5, "titleFontWeight": "normal", "labelFontSize": 6, "labelColor": "#333", "labelPadding": 10, "labelOverlap": false, "labelExpr": "replace(format(datum.value, ','), ',', '.')", "values": [0,5000,10000,15000,20000,25000,30000,35000,40000,45000], "tickCount": 20, "grid": true, "gridColor": "#8a8a8a", "gridWidth": 1.3, "gridOpacity": 1, "domainColor": "#9a9a9a", "tickColor": "#9a9a9a", "tickSize": 3}},
  "color": {"field": "serie", "type": "nominal", "scale": {"domain": ["dato 1", "dato 2", "dato 3", "dato 4"], "range": ["#2B4C7E", "#8C2D3C", "#7A9A3A", "#EDED5E"]},
   "legend": {"orient": "none", "legendX": 352, "legendY": 84, "title": null, "symbolType": "stroke", "symbolStrokeWidth": 2, "symbolSize": 250, "labelFontSize": 6.5, "rowPadding": 0, "labelColor": "#333"}},
  "strokeWidth": {"field": "serie", "type": "nominal", "scale": {"domain": ["dato 1", "dato 2", "dato 3", "dato 4"], "range": [2, 2, 2, 4.5]}, "legend": null}
 }}
]
}
]
}
]
}
